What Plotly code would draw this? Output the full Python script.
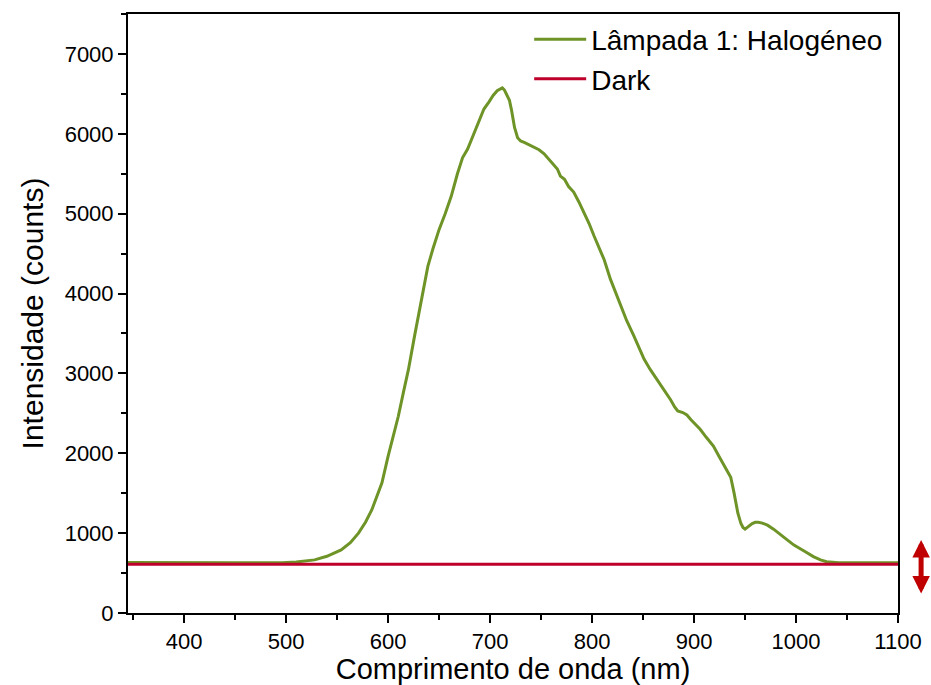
import plotly.graph_objects as go

# ---- data ----
wl_lamp = [345, 400, 450, 496, 510, 528, 540, 554, 563, 571, 578, 584, 589, 594, 600,
           605, 610, 615, 620, 626, 633, 639, 644, 650, 656, 662, 668, 673, 678, 684,
           689, 694, 699, 703, 707, 710, 712, 714, 716, 719, 721, 724, 727, 730, 734,
           739, 743, 748, 753, 758, 762, 766, 769, 773, 777, 782, 787, 792, 797, 802,
           807, 812, 818, 823, 828, 834, 841, 846, 851, 857, 864, 870, 877, 881, 884,
           889, 893, 897, 902, 906, 912, 919, 925, 931, 936, 939, 941, 943, 946, 948,
           950, 953, 957, 960, 963, 967, 972, 978, 985, 992, 998, 1004, 1010, 1017, 1024,
           1030, 1036, 1042, 1060, 1080, 1100]
counts_lamp = [632, 634, 630, 628, 640, 665, 710, 790, 880, 1000, 1140, 1290, 1450, 1630, 1960,
               2200, 2460, 2760, 3050, 3470, 3930, 4340, 4560, 4800, 5000, 5220, 5500, 5700, 5810, 6000,
               6150, 6310, 6400, 6480, 6540, 6560, 6575, 6550, 6500, 6420, 6300, 6080, 5950, 5910, 5890,
               5860, 5830, 5800, 5750, 5680, 5620, 5560, 5470, 5430, 5340, 5270, 5150, 5020, 4880, 4720,
               4560, 4420, 4180, 4010, 3850, 3660, 3470, 3330, 3180, 3050, 2920, 2800, 2670, 2580, 2530,
               2510, 2480, 2420, 2350, 2300, 2200, 2090, 1950, 1820, 1700, 1520, 1370, 1250, 1120, 1070,
               1050, 1080, 1120, 1135, 1135, 1125, 1100, 1050, 985, 910, 850, 810, 760, 706, 665,
               642, 632, 630, 630, 631, 630]

wl_dark = [345, 450, 550, 650, 750, 850, 950, 1050, 1100]
counts_dark = [611, 610, 612, 610, 611, 609, 610, 611, 610]

x_ticks = [400, 500, 600, 700, 800, 900, 1000, 1100]
y_ticks = [0, 1000, 2000, 3000, 4000, 5000, 6000, 7000]

GREEN = "#6E9427"
RED = "#BE002B"
FONT = "Liberation Sans, Arial, sans-serif"

fig = go.Figure()
fig.add_trace(go.Scatter(x=wl_lamp, y=counts_lamp, mode="lines",
                         name="Lâmpada 1: Halogéneo",
                         line=dict(color=GREEN, width=3)))
fig.add_trace(go.Scatter(x=wl_dark, y=counts_dark, mode="lines",
                         name="Dark",
                         line=dict(color=RED, width=3)))

axis_common = dict(showline=True, linecolor="black", linewidth=2, mirror=True,
                   ticks="outside", ticklen=8, tickwidth=2, tickcolor="black",
                   showgrid=False, zeroline=False,
                   tickfont=dict(family=FONT, size=22, color="black"))

fig.update_xaxes(range=[345, 1100], tickvals=x_ticks,
                 ticktext=[str(v) for v in x_ticks],
                 minor=dict(ticks="outside", ticklen=5, tickwidth=2, tickcolor="black", dtick=50, tick0=350),
                 title=dict(text="Comprimento de onda (nm)", font=dict(family=FONT, size=29, color="black"),
                            standoff=5),
                 **axis_common)
fig.update_yaxes(range=[0, 7500], tickvals=y_ticks,
                 ticktext=[str(v) for v in y_ticks],
                 minor=dict(ticks="outside", ticklen=5, tickwidth=2, tickcolor="black", dtick=500, tick0=0),
                 title=dict(text="Intensidade (counts)", font=dict(family=FONT, size=30, color="black"),
                            standoff=12),
                 **axis_common)

fig.add_annotation(x=1.03, y=0.122, xref="paper", yref="paper", text="",
                   showarrow=True, ax=0, ay=55, axref="pixel", ayref="pixel",
                   arrowhead=2, startarrowhead=2, arrowside="end+start",
                   arrowwidth=5, arrowsize=0.7, startarrowsize=0.7,
                   arrowcolor="#C00000", standoff=0, startstandoff=0)

fig.update_layout(width=931, height=685,
                  margin=dict(l=128, r=33, t=14, b=72, autoexpand=False),
                  plot_bgcolor="white", paper_bgcolor="white",
                  font=dict(family=FONT, color="black"),
                  legend=dict(x=0.521, y=0.999, xanchor="left", yanchor="top",
                              itemwidth=52,
                              bgcolor="rgba(0,0,0,0)", font=dict(family=FONT, size=28, color="black"),
                              tracegroupgap=0),
                  showlegend=True)

# remove the browser's default page margin so the figure fills the window exactly
fig.write_html("out.html",
               config={"displayModeBar": False},
               post_script="document.body.style.margin='0';document.body.style.overflow='hidden';")
